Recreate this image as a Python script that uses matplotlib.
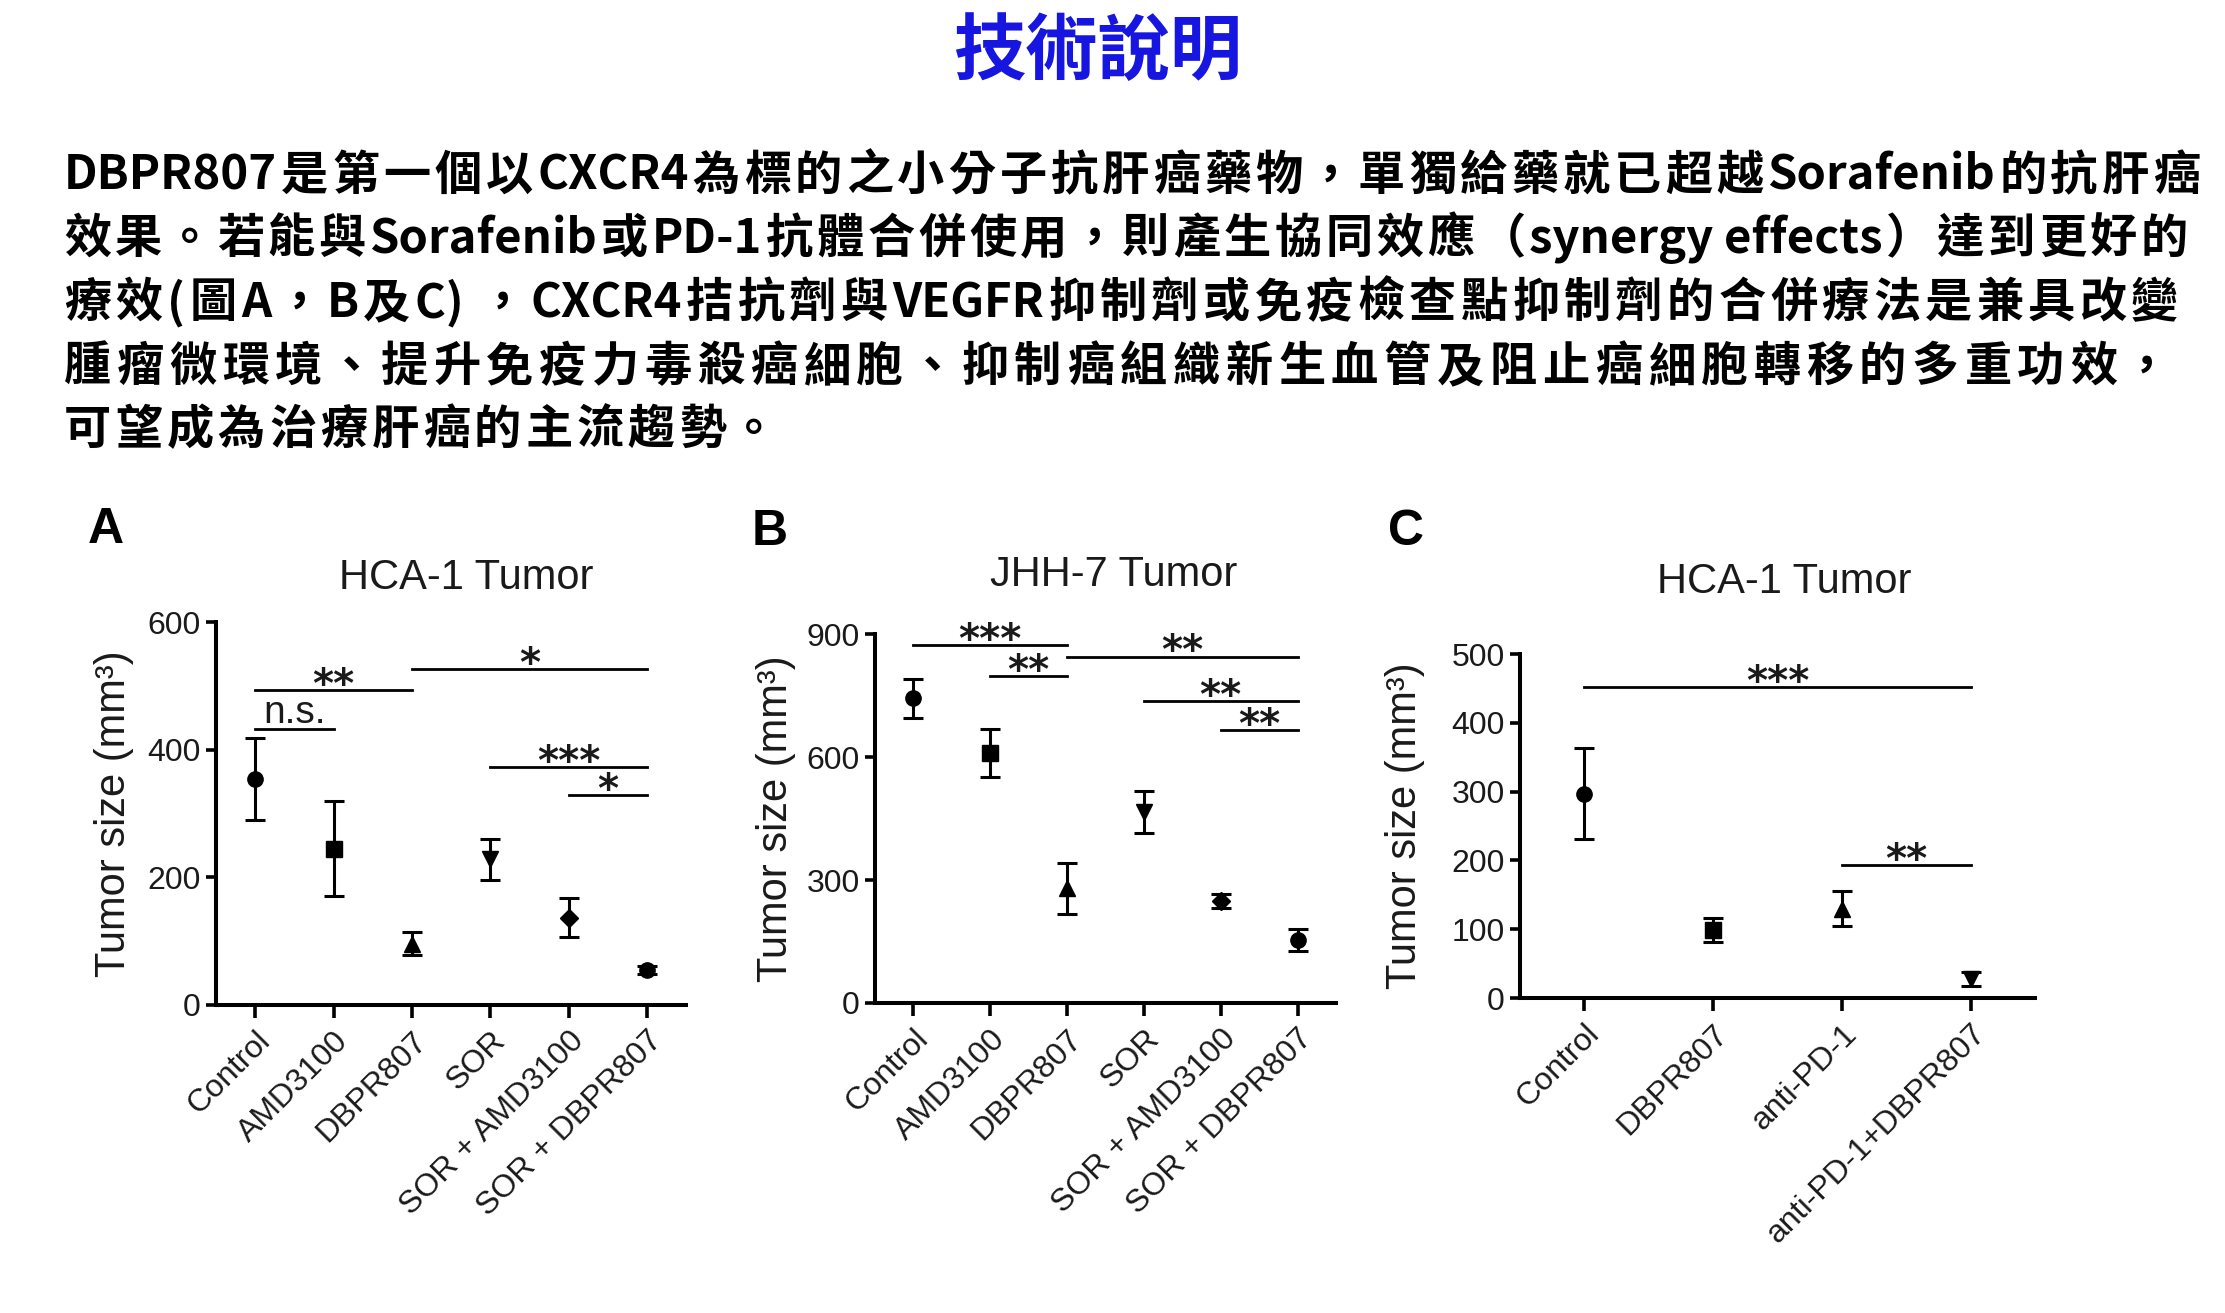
import re
import matplotlib
matplotlib.use('Agg')
import matplotlib.pyplot as plt

W, H = 2225, 1313
fig = plt.figure(figsize=(W / 100, H / 100), dpi=100)
plt.rcParams['font.family'] = ['Liberation Sans', 'DejaVu Sans']

# ---- data ----
cats_ab = ['Control', 'AMD3100', 'DBPR807', 'SOR', 'SOR + AMD3100', 'SOR + DBPR807']
cats_c = ['Control', 'DBPR807', 'anti-PD-1', 'anti-PD-1+DBPR807']

a_mean = [354, 245, 96, 228, 137, 55]
a_err = [64, 75, 18, 32, 31, 6]
b_mean = [743, 610, 280, 465, 249, 154]
b_err = [48, 58, 62, 51, 17, 27]
c_mean = [297, 99, 130, 28]
c_err = [66, 18, 25, 10]

# significance bars: (from group, to group, height, label)
a_sig = [(0, 1, 433, 'n.s.'), (0, 2, 493, '**'), (2, 5, 527, '*'),
         (3, 5, 373, '***'), (4, 5, 329, '*')]
b_sig = [(0, 2, 872, '***'), (1, 2, 798, '**'), (2, 5, 845, '**'),
         (3, 5, 737, '**'), (4, 5, 665, '**')]
c_sig = [(0, 3, 452, '***'), (2, 3, 193, '**')]

marks_ab = ['o', 's', '^', 'v', 'D', 'o']
marks_c = ['o', 's', '^', 'v']

title_txt = '技術說明'
para = [
    'DBPR807是第一個以CXCR4為標的之小分子抗肝癌藥物，單獨給藥就已超越Sorafenib的抗肝癌',
    '效果。若能與Sorafenib或PD-1抗體合併使用，則產生協同效應（synergy effects）達到更好的',
    '療效(圖A，B及C) ，CXCR4拮抗劑與VEGFR抑制劑或免疫檢查點抑制劑的合併療法是兼具改變',
    '腫瘤微環境、提升免疫力毒殺癌細胞、抑制癌組織新生血管及阻止癌細胞轉移的多重功效，',
    '可望成為治療肝癌的主流趨勢。',
]
para_y = [176, 239, 303, 367, 430]
para_right = [2200, 2188, 2178, 2170, None]

cjk = ['Noto Sans CJK TC', 'DejaVu Sans']
ink = '#1a1a1a'


def fx(x):
    return x / W


def fy(y):
    return 1 - y / H


# ---- header text ----
fig.text(fx(1098), fy(53), title_txt, family=cjk, weight='bold', fontsize=52,
         color='#1616e0', ha='center', va='center')

r = fig.canvas.get_renderer()
fs_para = 34
for line, yy, right in zip(para, para_y, para_right):
    toks = re.findall(r'[A-Za-z0-9 .()\-]+|.', line)
    widths = []
    for t in toks:
        tt = fig.text(0, 0, t, family=cjk, weight='bold', fontsize=fs_para)
        widths.append(tt.get_window_extent(r).width)
        tt.remove()
    if right is None:
        gap = 4
    else:
        gap = (right - 64 - sum(widths)) / (len(toks) - 1)
    x = 64
    for t, w in zip(toks, widths):
        fig.text(fx(x), fy(yy), t, family=cjk, weight='bold', fontsize=fs_para,
                 color='black', ha='left', va='center')
        x += w + gap


# ---- panels ----
def panel(box, cats, mean, err, marks, ymax, ystep, sig, title, title_xy,
          letter, letter_xy, ylab_x):
    l, rr, b, t = box
    ax = fig.add_axes([fx(l), fy(b), (rr - l) / W, (b - t) / H])
    for i in range(len(cats)):
        ms = 9 if marks[i] == 'D' else 11
        ax.errorbar(i, mean[i], yerr=err[i], fmt=marks[i], color='black',
                    ms=ms, elinewidth=2.2, capsize=7, capthick=2.2)
    for g1, g2, h, lab in sig:
        ax.plot([g1, g2], [h, h], color='black', lw=2)
        if lab == 'n.s.':
            ax.annotate(lab, xy=((g1 + g2) / 2, h), xytext=(0, 4),
                        textcoords='offset points', ha='center', va='baseline',
                        fontsize=28, color=ink)
        else:
            ax.annotate(lab, xy=((g1 + g2) / 2, h), xytext=(0, -5),
                        textcoords='offset points', ha='center', va='baseline',
                        fontsize=29, family='DejaVu Sans', weight='bold',
                        color=ink)
    ax.set_xlim(-0.5, len(cats) - 0.5)
    ax.set_ylim(0, ymax)
    ax.set_yticks(range(0, ymax + 1, ystep))
    ax.set_xticks(range(len(cats)))
    ax.set_xticklabels(cats, rotation=45, ha='right', va='top',
                       rotation_mode='anchor', fontsize=23, color=ink)
    ax.tick_params(axis='y', labelsize=23, labelcolor=ink, length=7, width=2.6, pad=4)
    ax.tick_params(axis='x', length=9, width=2.6, pad=6)
    for s in ['top', 'right']:
        ax.spines[s].set_visible(False)
    for s in ['left', 'bottom']:
        ax.spines[s].set_linewidth(2.9)
    ax.set_facecolor('none')
    fig.text(fx(title_xy[0]), fy(title_xy[1]), title, fontsize=30, color=ink,
             ha='center', va='center')
    fig.text(fx(letter_xy[0]), fy(letter_xy[1]), letter, fontsize=36,
             weight='bold', color='black', ha='center', va='center')
    fig.text(fx(ylab_x), fy((b + t) / 2), 'Tumor size (mm³)', fontsize=30,
             color=ink, rotation=90, ha='center', va='center')
    return ax


panel((216, 686, 1005, 622), cats_ab, a_mean, a_err, marks_ab, 600, 200, a_sig,
      'HCA-1 Tumor', (466, 578), 'A', (106, 530), 114)
panel((875, 1336, 1003, 634), cats_ab, b_mean, b_err, marks_ab, 900, 300, b_sig,
      'JHH-7 Tumor', (1114, 575), 'B', (770, 532), 776)
panel((1520, 2035, 998, 654), cats_c, c_mean, c_err, marks_c, 500, 100, c_sig,
      'HCA-1 Tumor', (1784, 582), 'C', (1406, 532), 1405)

fig.savefig('out.png', dpi=100, facecolor='white')
